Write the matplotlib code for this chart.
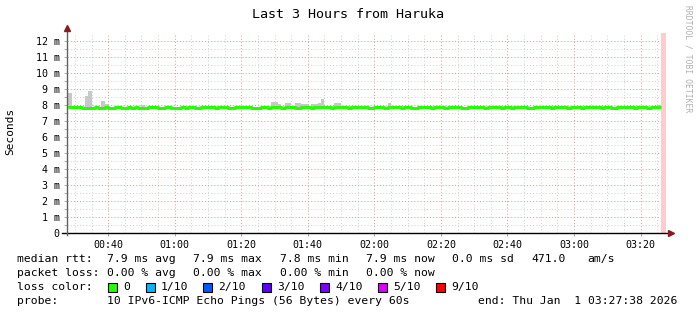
import numpy as np
import matplotlib.pyplot as plt
from matplotlib.patches import Rectangle
from matplotlib.lines import Line2D

plt.rcParams['font.family'] = ['DejaVu Sans Mono']

W, H = 697, 315

# time axis in minutes after 00:00, one RRD step per minute
t_start = 27 + 38 / 60.0       # 00:27:38
t_end = t_start + 180          # 03:27:38
t0 = 28                        # first full step

# median rtt per minute (ms)
median = [
    7.9, 7.9, 7.9, 7.9, 7.82, 7.82, 7.82, 7.82, 7.9, 7.82, 7.82, 7.9, 7.82, 7.82, 7.9, 7.9, 7.82, 7.82, 7.9, 7.82,
    7.9, 7.82, 7.82, 7.82, 7.9, 7.9, 7.9, 7.82, 7.82, 7.9, 7.9, 7.82, 7.82, 7.82, 7.9, 7.82, 7.9, 7.9, 7.82, 7.82,
    7.9, 7.9, 7.9, 7.9, 7.82, 7.9, 7.9, 7.9, 7.82, 7.82, 7.9, 7.9, 7.9, 7.9, 7.9, 7.82, 7.82, 7.82, 7.9, 7.9,
    7.82, 7.9, 7.9, 7.9, 7.82, 7.9, 7.9, 7.9, 7.82, 7.82, 7.9, 7.9, 7.9, 7.82, 7.9, 7.9, 7.9, 7.9, 7.9, 7.82,
    7.9, 7.9, 7.9, 7.9, 7.82, 7.9, 7.9, 7.9, 7.9, 7.9, 7.82, 7.82, 7.9, 7.9, 7.9, 7.82, 7.9, 7.9, 7.9, 7.9,
    7.82, 7.9, 7.9, 7.82, 7.82, 7.9, 7.9, 7.9, 7.9, 7.82, 7.9, 7.9, 7.9, 7.82, 7.9, 7.9, 7.9, 7.9, 7.82, 7.82,
    7.9, 7.9, 7.9, 7.9, 7.9, 7.82, 7.9, 7.9, 7.9, 7.9, 7.82, 7.9, 7.9, 7.82, 7.9, 7.9, 7.9, 7.9, 7.82, 7.82,
    7.9, 7.9, 7.9, 7.9, 7.9, 7.82, 7.9, 7.9, 7.9, 7.9, 7.82, 7.9, 7.9, 7.9, 7.82, 7.9, 7.9, 7.9, 7.9, 7.9,
    7.82, 7.9, 7.9, 7.82, 7.82, 7.9, 7.9, 7.9, 7.9, 7.9, 7.82, 7.9, 7.9, 7.9, 7.82, 7.9, 7.9, 7.9, 7.9,
]

# smoke: steps where the slowest ping sticks out above the median (ms)
spike_idx = [0, 5, 6, 10, 11, 22, 61, 62, 63, 65, 66, 68, 69, 70, 71, 73, 74, 75, 76, 80, 81, 96, 177]
spike_val = [8.75, 8.58, 8.9, 8.27, 8.05, 8.02, 8.2, 8.2, 8.05, 8.1, 8.1, 8.1, 8.1, 8.05, 8.05,
             8.05, 8.05, 8.1, 8.4, 8.1, 8.1, 8.1, 8.0]

xtick_pos = [40, 60, 80, 100, 120, 140, 160, 180, 200]
xtick_lbl = ["00:40", "01:00", "01:20", "01:40", "02:00", "02:20", "02:40", "03:00", "03:20"]
ytick_pos = list(range(13))
ytick_lbl = ["0"] + [f"{v} m" for v in range(1, 13)]

loss_colors = ["#26ff00", "#00b8ff", "#0059ff", "#5e00ff", "#7e00ff", "#dd00ff", "#ff0000"]
loss_labels = ["0", "1/10", "2/10", "3/10", "4/10", "5/10", "9/10"]

n = len(median)
t = np.arange(t0, t0 + n)
med = np.array(median)
smoke_top = med.copy()
smoke_top[spike_idx] = spike_val


def fx(px):
    return px / W


def fy(py):
    return 1 - py / H


fig = plt.figure(figsize=(W / 100, H / 100), dpi=100)
ax = fig.add_axes([fx(67), fy(233), (666 - 67) / W, (233 - 33) / H])

# smoke and median (last sample only closes the previous step)
ax.fill_between(t, med, smoke_top, step='post', color='#c8c8c8', lw=0)
ax.fill_between([t_start, t0], [med[0]] * 2, [smoke_top[0]] * 2, color='#c8c8c8', lw=0)
ax.plot(t, med, drawstyle='steps-post', color=loss_colors[0], lw=2.2, solid_capstyle='butt')
ax.plot([t_start, t0], [med[0]] * 2, color=loss_colors[0], lw=2.2, solid_capstyle='butt')

# unknown (pink) region at the end
ax.axvspan(t[-1], t_end, color='#ffcccc', lw=0)

ax.set_xlim(t_start, t_end)
ax.set_ylim(0, 12.5)
ax.set_xticks(xtick_pos)
ax.set_xticklabels(xtick_lbl)
ax.set_xticks(np.arange(30, 206, 5), minor=True)
ax.set_yticks(ytick_pos)
ax.set_yticklabels(ytick_lbl)
ax.set_yticks(np.arange(0.5, 12.5, 1.0), minor=True)

ax.set_axisbelow(True)
ax.grid(which='minor', color='#d4d4d4', linestyle=(0, (1, 2)), lw=0.75)
ax.grid(which='major', color='#e29c9c', linestyle=(0, (1, 2)), lw=0.75)

for s in ax.spines.values():
    s.set_visible(False)
ax.tick_params(axis='both', which='both', length=2.2, width=0.6, color='#a0a0a0',
               labelsize=7.2)
ax.tick_params(axis='y', which='major', pad=3)
ax.tick_params(axis='x', which='major', pad=2.5)
ax.tick_params(axis='x', which='minor', length=0)

# axes lines with arrows
ax.add_line(Line2D([-0.008, 1.006], [0, 0], transform=ax.transAxes, color='black', lw=1,
                   clip_on=False))
ax.add_line(Line2D([0, 0], [-0.01, 1.02], transform=ax.transAxes, color='#606060', lw=1,
                   clip_on=False))
ax.plot([1.008], [0], marker='>', ms=4, color='#8b1a1a', transform=ax.transAxes, clip_on=False)
ax.plot([0], [1.024], marker='^', ms=4, color='#8b1a1a', transform=ax.transAxes, clip_on=False)

fig.text(fx(348), fy(14), "Last 3 Hours from Haruka", ha='center', va='center', fontsize=9.6)
fig.text(fx(10), fy(131), "Seconds", rotation=90, ha='center', va='center', fontsize=8)
fig.text(fx(688), fy(5), "RRDTOOL / TOBI OETIKER", rotation=270, ha='center', va='top',
         fontsize=5.8, color='#b0b0b0')

# legend block
fs = 8.2
y1, y2, y3, y4 = 259, 273, 287, 301
fig.text(fx(17), fy(y1), "median rtt:", va='center', fontsize=fs)
for x, s in zip([107, 193, 280, 366, 452, 531, 587],
                ["7.9 ms avg", "7.9 ms max", "7.8 ms min", "7.9 ms now", "0.0 ms sd", "471.0", "am/s"]):
    fig.text(fx(x), fy(y1), s, va='center', fontsize=fs)
fig.text(fx(17), fy(y2), "packet loss:", va='center', fontsize=fs)
for x, s in zip([107, 193, 280, 366], ["0.00 % avg", "0.00 % max", "0.00 % min", "0.00 % now"]):
    fig.text(fx(x), fy(y2), s, va='center', fontsize=fs)
fig.text(fx(17), fy(y3), "loss color:", va='center', fontsize=fs)
for x, c, s in zip([108, 146, 203, 262, 320, 378, 436], loss_colors, loss_labels):
    fig.patches.append(Rectangle((fx(x), fy(y3 + 4.5)), 9 / W, 9 / H, transform=fig.transFigure,
                                 facecolor=c, edgecolor='black', lw=0.8))
    fig.text(fx(x + 15), fy(y3), s, va='center', fontsize=fs)
fig.text(fx(17), fy(y4), "probe:", va='center', fontsize=fs)
fig.text(fx(107), fy(y4), "10 IPv6-ICMP Echo Pings (56 Bytes) every 60s", va='center', fontsize=fs)
fig.text(fx(478), fy(y4), "end: Thu Jan  1 03:27:38 2026", va='center', fontsize=fs)

fig.savefig("out.png", dpi=100)
